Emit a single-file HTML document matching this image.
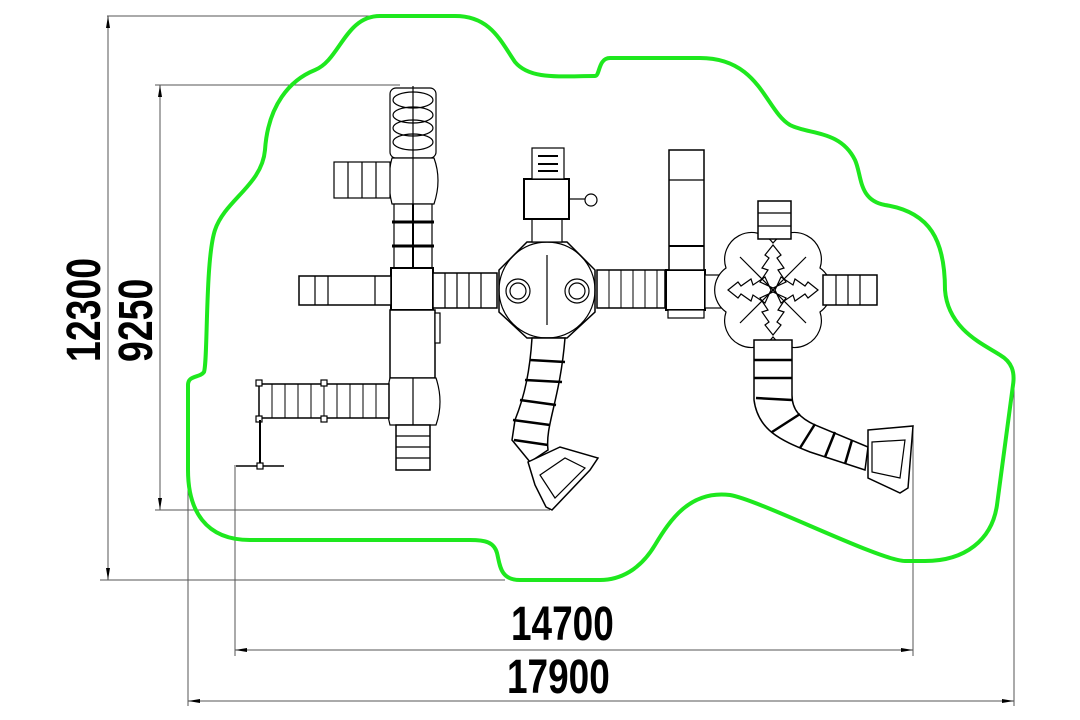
<!DOCTYPE html>
<html><head><meta charset="utf-8"><style>
html,body{margin:0;padding:0;background:#fff;width:1080px;height:720px;overflow:hidden}
svg{display:block}
.t{font-family:"Liberation Sans",sans-serif;font-weight:bold;font-size:48px;fill:#000}
</style></head><body>
<svg width="1080" height="720" viewBox="0 0 1080 720" xmlns="http://www.w3.org/2000/svg">
<g stroke="#555" stroke-width="1" fill="none">
<line x1="107" y1="16" x2="420" y2="16"/>
<line x1="108" y1="16" x2="108" y2="580"/>
<line x1="100" y1="580" x2="505" y2="580"/>
<line x1="155" y1="85" x2="400" y2="85"/>
<line x1="160" y1="85" x2="160" y2="510"/>
<line x1="155" y1="510" x2="550" y2="510"/>
<line x1="235" y1="465" x2="235" y2="656"/>
<line x1="913" y1="430" x2="913" y2="656"/>
<line x1="235" y1="650" x2="913" y2="650"/>
<line x1="188" y1="380" x2="188" y2="706"/>
<line x1="1014" y1="372" x2="1014" y2="706"/>
<line x1="188" y1="701" x2="1014" y2="701"/>
</g>
<g fill="#000">
<polygon points="235,650 247,648 247,652"/><polygon points="913,650 901,648 901,652"/>
<polygon points="188,701 200,699 200,703"/><polygon points="1014,701 1002,699 1002,703"/>
<polygon points="108,16 106,28 110,28"/><polygon points="108,580 106,568 110,568"/>
<polygon points="160,85 158,97 162,97"/><polygon points="160,510 158,498 162,498"/>
</g>
<text class="t" transform="translate(100,362) rotate(-90) scale(0.78,1)">12300</text>
<text class="t" transform="translate(152,362) rotate(-90) scale(0.78,1)">9250</text>
<text class="t" transform="translate(511,640) scale(0.77,1)">14700</text>
<text class="t" transform="translate(507,693) scale(0.77,1)">17900</text>
<path fill="none" stroke="#1ee81e" stroke-width="4" stroke-linejoin="round" d="
M 380 16 L 455 16 C 490 16 500 40 515 62 C 530 80 560 76 595 76 C 600 76 598 58 610 58 L 700 58 C 760 58 765 110 790 125 C 810 135 840 130 855 160 C 862 175 858 200 885 205 C 930 212 945 240 945 290 C 948 330 985 345 1000 355 C 1012 362 1015 372 1013 385 L 997 505 C 992 540 965 561 925 561 L 905 561 C 880 561 760 500 730 495 C 690 490 670 520 655 545 C 640 570 620 580 600 580 L 520 580 C 500 580 500 565 497 553 C 494 542 485 540 470 540 L 250 540 C 205 540 188 510 188 470 L 188 385 C 188 375 200 378 204 372 C 208 360 205 260 215 230 C 225 200 262 185 265 150 C 268 105 290 80 315 70 C 340 60 345 16 380 16 Z"/>
<g stroke="#000" stroke-width="1.2" fill="#fff">
<rect x="390" y="88" width="46" height="70" rx="6"/>
<ellipse cx="413" cy="100" rx="20" ry="8" fill="none"/>
<ellipse cx="413" cy="115" rx="20" ry="8" fill="none"/>
<ellipse cx="413" cy="128" rx="20" ry="8" fill="none"/>
<ellipse cx="413" cy="142" rx="20" ry="8" fill="none"/>
<line x1="413" y1="86" x2="413" y2="158"/>
<path d="M 392 158 L 434 158 Q 442 180 434 204 L 392 204 Q 386 180 392 158 Z"/>
<line x1="413" y1="158" x2="413" y2="204"/>
<rect x="394" y="204" width="38" height="64"/>
<line x1="392" y1="222" x2="434" y2="222" stroke-width="3"/>
<line x1="392" y1="246" x2="434" y2="246" stroke-width="3"/>
<line x1="413" y1="204" x2="413" y2="268" stroke-width="2"/>
<rect x="334" y="162" width="56" height="36"/>
<line x1="348" y1="162" x2="348" y2="198"/><line x1="362" y1="162" x2="362" y2="198"/><line x1="376" y1="162" x2="376" y2="198"/>
<rect x="391" y="268" width="42" height="42" stroke-width="2"/>
<rect x="299" y="276" width="92" height="29" stroke-width="1.5"/>
<line x1="315" y1="276" x2="315" y2="305"/><line x1="328" y1="276" x2="328" y2="305"/><line x1="375" y1="276" x2="375" y2="305"/>
<rect x="433" y="273" width="64" height="35" stroke-width="1.5"/>
<line x1="445" y1="273" x2="445" y2="308"/><line x1="457" y1="273" x2="457" y2="308"/><line x1="469" y1="273" x2="469" y2="308"/><line x1="481" y1="273" x2="481" y2="308"/>
<rect x="390" y="310" width="45" height="68" stroke-width="1.5"/>
<rect x="435" y="313" width="5" height="30"/>
<path d="M 390 378 L 436 378 Q 444 402 436 425 L 390 425 Q 384 402 390 378 Z"/>
<line x1="413" y1="378" x2="413" y2="425"/>
<rect x="396" y="425" width="34" height="45" stroke-width="1.5"/>
<line x1="396" y1="436" x2="430" y2="436"/><line x1="396" y1="447" x2="430" y2="447"/><line x1="396" y1="458" x2="430" y2="458"/>
<rect x="259" y="384" width="130" height="34" stroke-width="1.5"/>
<g stroke-width="1"><line x1="272" y1="384" x2="272" y2="418"/><line x1="285" y1="384" x2="285" y2="418"/><line x1="298" y1="384" x2="298" y2="418"/><line x1="311" y1="384" x2="311" y2="418"/><line x1="324" y1="384" x2="324" y2="418"/><line x1="337" y1="384" x2="337" y2="418"/><line x1="350" y1="384" x2="350" y2="418"/><line x1="363" y1="384" x2="363" y2="418"/><line x1="376" y1="384" x2="376" y2="418"/></g>
<rect x="256" y="380" width="6" height="6"/><rect x="321" y="380" width="6" height="6"/><rect x="256" y="416" width="6" height="6"/><rect x="321" y="416" width="6" height="6"/>
<line x1="260" y1="420" x2="260" y2="465" stroke-width="2"/>
<line x1="236" y1="466" x2="284" y2="466" stroke-width="1.5"/>
<rect x="257" y="463" width="6" height="6"/>
<polygon points="527,242 567,242 595,270 595,312 567,338 527,338 499,312 499,270" stroke-width="1.5"/>
<circle cx="547" cy="290" r="48" fill="none"/>
<line x1="547" y1="255" x2="547" y2="325"/>
<circle cx="518" cy="291" r="12"/><circle cx="518" cy="291" r="8" fill="none"/>
<circle cx="577" cy="291" r="12"/><circle cx="577" cy="291" r="8" fill="none"/>
<rect x="532" y="218" width="30" height="24"/>
<rect x="524" y="179" width="45" height="40" stroke-width="2"/>
<rect x="532" y="148" width="32" height="31"/>
<line x1="538" y1="156" x2="558" y2="156" stroke-width="2"/><line x1="538" y1="164" x2="558" y2="164" stroke-width="2"/><line x1="538" y1="171" x2="558" y2="171" stroke-width="2"/>
<line x1="569" y1="199" x2="585" y2="199"/>
<circle cx="591" cy="200" r="6"/>
<path d="M 532 338 C 530 370 525 395 515 420 L 512 440 L 530 462 L 548 450 C 545 425 560 400 565 338 Z" stroke-width="1.5"/>
<g stroke-width="2.5"><line x1="530" y1="360" x2="565" y2="362"/><line x1="525" y1="380" x2="562" y2="382"/><line x1="520" y1="400" x2="556" y2="405"/><line x1="513" y1="420" x2="550" y2="425"/><line x1="514" y1="440" x2="548" y2="445"/></g>
<path d="M 528 462 L 560 447 L 598 458 L 590 470 L 552 510 L 546 507 L 535 485 Z" stroke-width="1.5"/>
<path d="M 540 475 L 565 458 L 585 468 L 555 498 Z" fill="none"/>
<rect x="597" y="270" width="68" height="38" stroke-width="1.5"/>
<g stroke-width="1"><line x1="609" y1="270" x2="609" y2="308"/><line x1="621" y1="270" x2="621" y2="308"/><line x1="633" y1="270" x2="633" y2="308"/><line x1="645" y1="270" x2="645" y2="308"/><line x1="657" y1="270" x2="657" y2="308"/></g>
<rect x="666" y="270" width="39" height="40" stroke-width="2"/>
<rect x="668" y="310" width="36" height="8"/>
<rect x="669" y="150" width="35" height="120" stroke-width="1.5"/>
<line x1="669" y1="180" x2="704" y2="180"/><line x1="669" y1="246" x2="704" y2="246" stroke-width="2"/>
<rect x="705" y="275" width="18" height="33"/>
<g stroke-width="1.2">
<path d="M 773 243 A 27 27 0 0 1 820 268 A 27 27 0 0 1 820 312 A 27 27 0 0 1 773 337 A 27 27 0 0 1 726 312 A 27 27 0 0 1 726 268 A 27 27 0 0 1 773 243 Z"/>
<line x1="740" y1="257" x2="806" y2="323"/><line x1="806" y1="257" x2="740" y2="323"/>
<path d="M 773 245 L 765 255 L 769 258 L 762 268 L 768 270 L 760 282 L 773 288 L 786 282 L 778 270 L 784 268 L 777 258 L 781 255 Z" fill="none"/>
<path d="M 773 335 L 765 325 L 769 322 L 762 312 L 768 310 L 760 298 L 773 292 L 786 298 L 778 310 L 784 312 L 777 322 L 781 325 Z" fill="none"/>
<path d="M 728 290 L 738 282 L 741 286 L 751 279 L 753 285 L 765 277 L 771 290 L 765 303 L 753 295 L 751 301 L 741 294 L 738 298 Z" fill="none"/>
<path d="M 818 290 L 808 282 L 805 286 L 795 279 L 793 285 L 781 277 L 775 290 L 781 303 L 793 295 L 795 301 L 805 294 L 808 298 Z" fill="none"/>
</g>
<rect x="758" y="201" width="33" height="38" stroke-width="1.5"/>
<line x1="758" y1="213" x2="791" y2="213"/><line x1="758" y1="226" x2="791" y2="226"/>
<rect x="823" y="275" width="54" height="30" stroke-width="1.5"/>
<line x1="836" y1="275" x2="836" y2="305"/><line x1="848" y1="275" x2="848" y2="305"/><line x1="860" y1="275" x2="860" y2="305"/>
<path d="M 754 340 L 754 400 C 758 430 780 440 810 452 L 865 470 L 868 447 L 815 425 C 800 418 792 410 792 395 L 792 340 Z" stroke-width="1.5"/>
<g stroke-width="2.5"><line x1="754" y1="360" x2="792" y2="360"/><line x1="754" y1="378" x2="792" y2="378"/><line x1="756" y1="398" x2="792" y2="400"/><line x1="772" y1="432" x2="800" y2="414"/><line x1="800" y1="448" x2="815" y2="424"/><line x1="825" y1="457" x2="835" y2="432"/><line x1="845" y1="464" x2="852" y2="440"/></g>
<path d="M 868 430 L 913 426 L 908 488 L 900 493 L 868 478 Z" stroke-width="1.5"/>
<path d="M 872 442 L 905 440 L 900 478 L 872 472 Z" fill="none"/>
</g>
</svg>
</body></html>
